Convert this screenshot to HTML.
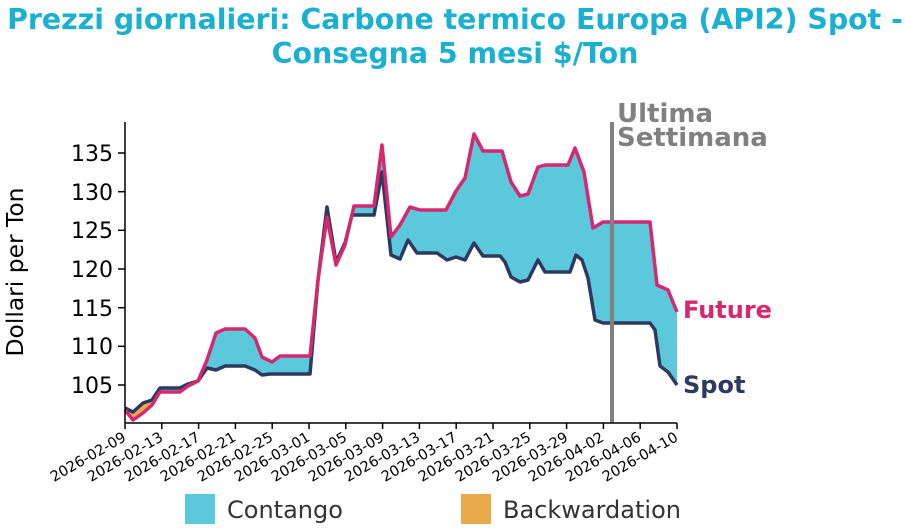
<!DOCTYPE html>
<html><head><meta charset="utf-8"><style>
body{margin:0;background:#fff;}
svg{display:block;font-family:"DejaVu Sans","Liberation Sans",sans-serif;}
</style></head><body>
<svg width="905" height="530" viewBox="0 0 905 530" xmlns="http://www.w3.org/2000/svg">
<text x="455" y="29" text-anchor="middle" font-size="28.4" font-weight="bold" fill="#1ab0d0">Prezzi giornalieri: Carbone termico Europa (API2) Spot -</text>
<text x="455" y="63" text-anchor="middle" font-size="28.4" font-weight="bold" fill="#1ab0d0">Consegna 5 mesi $/Ton</text>

<polygon fill="#5bc8dc" points="125,410 133,420 143,413 152,405 160,392 180,392 188,386 198,381 207,360 216,333 225,329 245,329 255,338 262,357 272,362 280,356 310,356 318,280 327,217 336,265 345,245 354,206 374,206 382,145 391,237 400,225 410,207 420,210 446,210 456,191 465,178 474,134 483,151 502,151 511,182 520,196 528,194 538,167 545,165 568,165 575,148 584,172 593,228 603,222 650,222 657,285 668,290 677,312 677,385 668,372 660,366 655,330 650,323 603,323 595,320 588,278 582,260 576,255 570,272 545,272 538,260 528,280 520,282 511,277 505,262 500,256 483,256 474,243 465,260 456,257 447,260 437,253 417,253 408,240 400,259 391,255 382,172 374,215 352,215 345,243 336,262 327,207 318,280 310,374 270,374 262,375 255,370 245,366 225,366 216,370 207,368 198,381 188,384 180,388 160,388 152,400 143,403 133,412 125,408"/>
<polygon fill="#e8aa4a" points="125,408 133,412 143,403 152,400 158,391 160,392 152,405 143,413 133,420 125,410"/>

<polyline fill="none" stroke="#2b3a5e" stroke-width="3.5" stroke-linejoin="round" points="125,408 133,412 143,403 152,400 160,388 180,388 188,384 198,381 207,368 216,370 225,366 245,366 255,370 262,375 270,374 310,374 318,280 327,207 336,262 345,243 352,215 374,215 382,172 391,255 400,259 408,240 417,253 437,253 447,260 456,257 465,260 474,243 483,256 500,256 505,262 511,277 520,282 528,280 538,260 545,272 570,272 576,255 582,260 588,278 595,320 603,323 650,323 655,330 660,366 668,372 677,385"/>
<polyline fill="none" stroke="#d6286e" stroke-width="3.5" stroke-linejoin="round" points="125,410 133,420 143,413 152,405 160,392 180,392 188,386 198,381 207,360 216,333 225,329 245,329 255,338 262,357 272,362 280,356 310,356 318,280 327,217 336,265 345,245 354,206 374,206 382,145 391,237 400,225 410,207 420,210 446,210 456,191 465,178 474,134 483,151 502,151 511,182 520,196 528,194 538,167 545,165 568,165 575,148 584,172 593,228 603,222 650,222 657,285 668,290 677,312"/>

<line x1="612" y1="122" x2="612" y2="423" stroke="#808080" stroke-width="4"/>
<text x="617" y="122" font-size="26" font-weight="bold" fill="#808080">Ultima</text>
<text x="617" y="146" font-size="26" font-weight="bold" fill="#808080">Settimana</text>

<g stroke="#000" stroke-width="1.5">
<line x1="125" y1="122" x2="125" y2="423"/>
<line x1="125" y1="423" x2="677" y2="423"/>
<line x1="118" y1="153" x2="125" y2="153"/><line x1="118" y1="191.7" x2="125" y2="191.7"/><line x1="118" y1="230.3" x2="125" y2="230.3"/><line x1="118" y1="269" x2="125" y2="269"/><line x1="118" y1="307.7" x2="125" y2="307.7"/><line x1="118" y1="346.3" x2="125" y2="346.3"/><line x1="118" y1="385" x2="125" y2="385"/>
</g>
<g font-size="22" text-anchor="end" fill="#000">
<text x="113" y="161">135</text><text x="113" y="200">130</text><text x="113" y="238">125</text><text x="113" y="277">120</text><text x="113" y="316">115</text><text x="113" y="354">110</text><text x="113" y="393">105</text>
</g>
<text transform="translate(23,272) rotate(-90)" font-size="23.4" text-anchor="middle">Dollari per Ton</text>

<g stroke="#000" stroke-width="1.5">
<line x1="125" y1="423" x2="125" y2="429"/><line x1="161.8" y1="423" x2="161.8" y2="429"/><line x1="198.6" y1="423" x2="198.6" y2="429"/><line x1="235.4" y1="423" x2="235.4" y2="429"/><line x1="272.2" y1="423" x2="272.2" y2="429"/><line x1="309" y1="423" x2="309" y2="429"/><line x1="345.8" y1="423" x2="345.8" y2="429"/><line x1="382.6" y1="423" x2="382.6" y2="429"/><line x1="419.4" y1="423" x2="419.4" y2="429"/><line x1="456.2" y1="423" x2="456.2" y2="429"/><line x1="493" y1="423" x2="493" y2="429"/><line x1="529.8" y1="423" x2="529.8" y2="429"/><line x1="566.6" y1="423" x2="566.6" y2="429"/><line x1="603.4" y1="423" x2="603.4" y2="429"/><line x1="640.2" y1="423" x2="640.2" y2="429"/><line x1="677" y1="423" x2="677" y2="429"/>
</g>
<g font-size="14.5" text-anchor="end" fill="#000">
<text transform="translate(127,440) rotate(-30)">2026-02-09</text>
<text transform="translate(164,440) rotate(-30)">2026-02-13</text>
<text transform="translate(201,440) rotate(-30)">2026-02-17</text>
<text transform="translate(237,440) rotate(-30)">2026-02-21</text>
<text transform="translate(274,440) rotate(-30)">2026-02-25</text>
<text transform="translate(311,440) rotate(-30)">2026-03-01</text>
<text transform="translate(348,440) rotate(-30)">2026-03-05</text>
<text transform="translate(385,440) rotate(-30)">2026-03-09</text>
<text transform="translate(421,440) rotate(-30)">2026-03-13</text>
<text transform="translate(458,440) rotate(-30)">2026-03-17</text>
<text transform="translate(495,440) rotate(-30)">2026-03-21</text>
<text transform="translate(532,440) rotate(-30)">2026-03-25</text>
<text transform="translate(569,440) rotate(-30)">2026-03-29</text>
<text transform="translate(605,440) rotate(-30)">2026-04-02</text>
<text transform="translate(642,440) rotate(-30)">2026-04-06</text>
<text transform="translate(679,440) rotate(-30)">2026-04-10</text>
</g>

<text x="683" y="318" font-size="24" font-weight="bold" fill="#d6286e">Future</text>
<text x="683" y="393" font-size="24" font-weight="bold" fill="#2b3a5e">Spot</text>

<rect x="185" y="494" width="30" height="30" fill="#5bc8dc"/>
<text x="227" y="518" font-size="24" fill="#333">Contango</text>
<rect x="461" y="494" width="30" height="30" fill="#e8aa4a"/>
<text x="503" y="518" font-size="24" fill="#333">Backwardation</text>
</svg>
</body></html>
